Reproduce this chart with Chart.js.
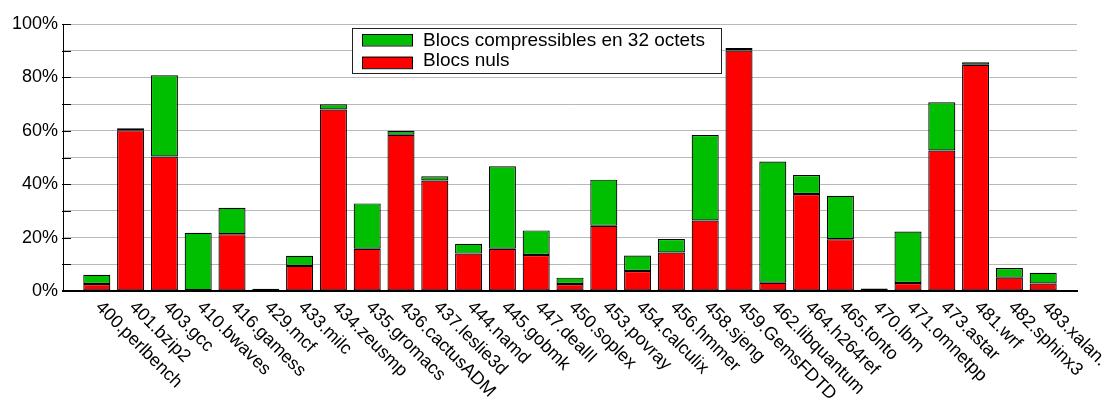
<!DOCTYPE html>
<html>
<head>
<meta charset="utf-8">
<script src="https://cdn.jsdelivr.net/npm/chart.js@4/dist/chart.umd.min.js"></script>
<style>
  html, body { margin: 0; padding: 0; background: #fff; }
</style>
</head>
<body>
<canvas id="BlocsCanvas" width="1107" height="401"></canvas>
<script>
// SPEC benchmarks (x axis)
const benchmarks = [
    "400.perlbench", "401.bzip2", "403.gcc", "410.bwaves", "416.gamess", "429.mcf",
    "433.milc", "434.zeusmp", "435.gromacs", "436.cactusADM", "437.leslie3d", "444.namd",
    "445.gobmk", "447.dealII", "450.soplex", "453.povray", "454.calculix", "456.hmmer",
    "458.sjeng", "459.GemsFDTD", "462.libquantum", "464.h264ref", "465.tonto", "470.lbm",
    "471.omnetpp", "473.astar", "481.wrf", "482.sphinx3", "483.xalan."
];

// % of blocks that are all zero (red, bottom of stack)
const blocsNuls = [
    2.6, 60.2, 50.4, 0.3, 21.3, 0.1,
    9.4, 68.0, 15.8, 58.5, 41.4, 14.0,
    15.8, 13.5, 2.6, 24.4, 7.5, 14.4,
    26.4, 90.1, 3.1, 36.3, 19.4, 0.2,
    3.0, 52.6, 84.7, 5.0, 2.8
];

// extra % compressible in 32 bytes (green, stacked on top)
const blocs32 = [
    3.5, 0.8, 30.4, 21.5, 9.9, 0.7,
    3.8, 1.9, 17.0, 1.5, 1.6, 3.7,
    30.9, 9.2, 2.4, 17.3, 5.8, 5.1,
    32.0, 0.9, 45.4, 7.1, 16.3, 0.7,
    19.3, 18.1, 1.0, 3.6, 4.0
];

const yTicks = [0, 10, 20, 30, 40, 50, 60, 70, 80, 90, 100];

const FONT = '"Liberation Sans", Arial, Helvetica, sans-serif';

function toPoints(values){
    return values.map((v, i) => ({ x: i, y: v }));
}

// rotated x labels, inner y ticks and the boxed legend
const decorations = {
    id: 'decorations',
    afterDraw(chart){
        const ctx = chart.ctx;
        const xs = chart.scales.x;
        const ys = chart.scales.y;
        const area = chart.chartArea;
        ctx.save();

        // short ticks on the inside of the y axis
        ctx.strokeStyle = "#000";
        ctx.lineWidth = 1;
        yTicks.forEach(v => {
            const y = Math.round(ys.getPixelForValue(v)) + 0.5;
            ctx.beginPath();
            ctx.moveTo(area.left - 1, y);
            ctx.lineTo(area.left + 8, y);
            ctx.stroke();
        });

        // benchmark names, rotated 45 deg clockwise
        ctx.font = "18px " + FONT;
        ctx.fillStyle = "#000";
        ctx.textAlign = "left";
        ctx.textBaseline = "alphabetic";
        benchmarks.forEach((name, i) => {
            const x = xs.getPixelForValue(i);
            ctx.save();
            ctx.translate(x - 2, area.bottom + 17);
            ctx.rotate(Math.PI / 4);
            ctx.fillText(name, 0, 0);
            ctx.restore();
        });

        // legend (top dataset first)
        const lx = 352, ly = 28, lw = 369, lh = 45;
        ctx.fillStyle = "#fff";
        ctx.fillRect(lx, ly, lw, lh);
        ctx.strokeStyle = "#222";
        ctx.strokeRect(lx + 0.5, ly + 0.5, lw, lh);

        const items = chart.data.datasets.slice().reverse();
        ctx.font = "19px " + FONT;
        items.forEach((ds, k) => {
            const sy = 34 + k * 22.7;
            ctx.fillStyle = ds.backgroundColor;
            ctx.fillRect(362, sy, 50, 11.5);
            ctx.strokeStyle = "#000";
            ctx.strokeRect(362.5, sy + 0.5, 50, 11.5);
            ctx.fillStyle = "#000";
            ctx.fillText(ds.label, 423, 45.7 + k * 20);
        });

        ctx.restore();
    }
};

function initBlocsChart(){
    const ctx = document.getElementById("BlocsCanvas").getContext("2d");

    new Chart(ctx, {
        type: 'bar',
        data: {
            datasets: [{
                label: "Blocs nuls",
                data: toPoints(blocsNuls),
                backgroundColor: "#ff0000",
                borderColor: "#000",
                borderWidth: 1.2,
                borderSkipped: false
            }, {
                label: "Blocs compressibles en 32 octets",
                data: toPoints(blocs32),
                backgroundColor: "#00bf00",
                borderColor: "#000",
                borderWidth: 1.2,
                borderSkipped: false
            }]
        },
        options: {
            animation: false,
            responsive: false,
            layout: { padding: { top: 24, right: 30, left: 0, bottom: 0 } },
            datasets: { bar: { categoryPercentage: 1.0, barPercentage: 0.8 } },
            plugins: {
                legend: { display: false },
                tooltip: { enabled: false }
            },
            scales: {
                x: {
                    type: 'linear',
                    offset: false,
                    min: -1,
                    max: benchmarks.length,
                    stacked: true,
                    grid: { display: false },
                    ticks: { display: false },
                    border: { color: "#000", width: 2 },
                    afterFit: s => { s.height = 110; }
                },
                y: {
                    stacked: true,
                    min: 0,
                    max: 100,
                    afterBuildTicks: s => { s.ticks = yTicks.map(v => ({ value: v })); },
                    ticks: {
                        autoSkip: false,
                        padding: 5,
                        color: "#000",
                        font: { family: FONT, size: 18 },
                        callback: v => (v % 20 === 0 ? v + "%" : "")
                    },
                    grid: { color: "#b8b8b8", lineWidth: 1, drawTicks: false },
                    border: { color: "#000", width: 1 },
                    afterFit: s => { s.width = 63; }
                }
            }
        },
        plugins: [decorations]
    });
}

initBlocsChart();
</script>
</body>
</html>
